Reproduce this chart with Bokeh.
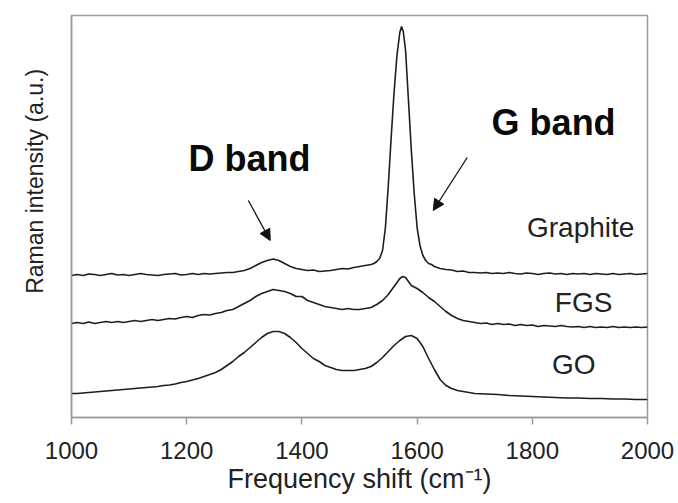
from bokeh.plotting import figure
from bokeh.models import FixedTicker, Arrow, NormalHead
from bokeh.core.properties import value
from bokeh.embed import file_html
from bokeh.resources import INLINE

# ---- data (arbitrary intensity units) ----
x_ticks = [1000, 1200, 1400, 1600, 1800, 2000]

graphite_x = [1000, 1010, 1020, 1030, 1040, 1050, 1060, 1070, 1080, 1090,
              1100, 1110, 1120, 1130, 1140, 1150, 1160, 1170, 1180, 1190,
              1200, 1210, 1220, 1230, 1240, 1250, 1260, 1270, 1280, 1290,
              1300, 1310, 1320, 1330, 1340, 1350, 1360, 1370, 1380, 1390,
              1400, 1410, 1420, 1430, 1440, 1450, 1460, 1470, 1480, 1490,
              1500, 1510, 1520, 1525, 1530, 1535, 1540, 1545, 1550, 1555,
              1560, 1565, 1570, 1573, 1576, 1580, 1585, 1590, 1595, 1600,
              1605, 1610, 1615, 1620, 1625, 1630, 1640, 1650, 1660, 1670,
              1680, 1690, 1700, 1710, 1720, 1730, 1740, 1750, 1760, 1770,
              1780, 1790, 1800, 1810, 1820, 1830, 1840, 1850, 1860, 1870,
              1880, 1890, 1900, 1910, 1920, 1930, 1940, 1950, 1960, 1970,
              1980, 1990, 2000]
graphite_y = [142, 143, 142, 143.5, 143, 142, 143, 144, 142.5, 143,
              142, 143, 144, 143, 142.5, 142, 143, 143.5, 144, 142.5,
              143, 144, 143, 144, 143.5, 144, 144.5, 145, 145, 146,
              147, 149, 152, 155, 157, 158.5, 157, 154, 151, 149,
              148, 147, 147.5, 146, 146.5, 147, 148, 149, 148.5, 150,
              151, 152, 153, 154, 156, 159, 167, 190, 232, 280,
              325, 362, 385, 391, 386, 367, 317, 267, 224, 190,
              172, 162, 157, 154, 153, 151, 149, 148, 147.5, 146,
              146.5, 145, 145, 144.5, 145, 144, 144.5, 144, 145, 144,
              143.5, 144.5, 144, 143, 144, 144.5, 143.5, 144, 143, 144,
              143.5, 144, 143, 144, 143.5, 143, 144, 143, 143.5, 144,
              143, 143.5, 144]

fgs_x = [1000, 1010, 1020, 1030, 1040, 1050, 1060, 1070, 1080, 1090,
         1100, 1110, 1120, 1130, 1140, 1150, 1160, 1170, 1180, 1190,
         1200, 1210, 1220, 1230, 1240, 1250, 1260, 1270, 1280, 1290,
         1300, 1310, 1320, 1330, 1340, 1350, 1360, 1370, 1380, 1390,
         1400, 1410, 1420, 1430, 1440, 1450, 1460, 1470, 1480, 1490,
         1500, 1510, 1520, 1530, 1540, 1550, 1560, 1570, 1575, 1580,
         1590, 1600, 1610, 1620, 1630, 1640, 1650, 1660, 1670, 1680,
         1690, 1700, 1710, 1720, 1730, 1740, 1750, 1760, 1770, 1780,
         1790, 1800, 1810, 1820, 1830, 1840, 1850, 1860, 1870, 1880,
         1890, 1900, 1910, 1920, 1930, 1940, 1950, 1960, 1970, 1980,
         1990, 2000]
fgs_y = [94, 95, 94, 95.5, 94, 95, 96, 95, 96, 95,
         96, 97, 96, 97, 98, 97, 98, 99, 98.5, 100,
         101, 100, 102, 103, 102.5, 104, 105, 107, 108, 111,
         114, 117, 121, 124, 126, 128, 127, 126, 124, 121,
         121, 117, 115, 113, 111, 110, 109, 108, 109, 108,
         108, 109, 110, 113, 117, 123, 131, 139, 141, 140,
         132, 129, 125, 120, 116, 111, 106, 102, 99, 97,
         96, 95, 94, 94.5, 93, 94, 93, 93.5, 92, 93,
         92, 92.5, 91, 92, 91.5, 91, 92, 91, 90.5, 91,
         90, 91, 90, 90.5, 90, 91, 90, 90.5, 90, 90.5,
         90, 90.5]

go_x = [1000, 1010, 1020, 1030, 1040, 1050, 1060, 1070, 1080, 1090,
        1100, 1110, 1120, 1130, 1140, 1150, 1160, 1170, 1180, 1190,
        1200, 1210, 1220, 1230, 1240, 1250, 1260, 1270, 1280, 1290,
        1300, 1310, 1320, 1330, 1340, 1350, 1360, 1370, 1380, 1390,
        1400, 1410, 1420, 1430, 1440, 1450, 1460, 1470, 1480, 1490,
        1500, 1510, 1520, 1530, 1540, 1550, 1560, 1570, 1580, 1590,
        1600, 1610, 1620, 1630, 1640, 1650, 1660, 1670, 1680, 1690,
        1700, 1720, 1740, 1760, 1780, 1800, 1820, 1840, 1860, 1880,
        1900, 1920, 1940, 1960, 1980, 2000]
go_y = [24, 24, 24.5, 25, 25.5, 26, 26.5, 27, 27.5, 28,
        28.5, 29, 29.5, 30, 30.5, 31, 32, 32.5, 33.5, 35,
        36, 37.5, 39, 41, 43, 45, 48, 52, 56, 61,
        65, 70, 75, 80, 84, 86, 86, 84, 80, 75,
        69, 64, 59, 56, 52, 50, 48, 47, 47, 47,
        48, 49, 51, 55, 60, 66, 72, 77, 81, 82,
        79, 71, 59, 48, 38, 32, 29, 27, 26, 25,
        24, 23.5, 23, 22, 21.5, 21, 20.5, 20, 19.5, 19.5,
        19, 19, 18.5, 18.5, 18, 18]

series_names = ["Graphite", "FGS", "GO"]
series_label_x = [1884, 1889, 1872]
series_label_y = [190, 115, 53]

band_names = ["D band", "G band"]
band_label_x = [1309, 1837]
band_label_y = [259, 295]
arrow_start_x = [1307, 1687]
arrow_start_y = [217, 260]
arrow_end_x = [1345, 1628]
arrow_end_y = [177, 207]

x_title = "Frequency shift (cm\u207B\u00B9)"
y_title = "Raman intensity (a.u.)"

FONT = "Liberation Sans"

p = figure(width=678, height=503, x_range=(1000, 2000), y_range=(0, 402),
           output_backend="svg", toolbar_location=None,
           min_border_left=71, min_border_right=31, min_border_top=15,
           min_border_bottom=86)

p.grid.visible = False
p.outline_line_color = "#9a9a9a"
p.outline_line_width = 1.5
p.background_fill_color = "white"
p.border_fill_color = "white"

xa = p.xaxis[0]
xa.ticker = FixedTicker(ticks=x_ticks)
xa.major_tick_in = 0
xa.major_tick_out = 7
xa.minor_tick_line_color = None
xa.axis_line_color = "#9a9a9a"
xa.axis_line_width = 1.5
xa.major_tick_line_color = "#9a9a9a"
xa.major_tick_line_width = 1.5
xa.major_label_text_font = FONT
xa.major_label_text_font_size = "24px"
xa.major_label_text_color = "#222222"
xa.major_label_standoff = 17
xa.axis_label = x_title
xa.axis_label_text_font = FONT
xa.axis_label_text_font_size = "27px"
xa.axis_label_text_font_style = "normal"
xa.axis_label_text_color = "#222222"
xa.axis_label_standoff = 2

ya = p.yaxis[0]
ya.ticker = FixedTicker(ticks=[])
ya.major_tick_line_color = None
ya.minor_tick_line_color = None
ya.axis_line_color = "#9a9a9a"
ya.axis_line_width = 1.5
# leading non-breaking spaces lift the label above the frame's centre, as in the reference
ya.axis_label = "\u00A0" * 11 + y_title
ya.axis_label_text_font = FONT
ya.axis_label_text_font_size = "23px"
ya.axis_label_text_font_style = "normal"
ya.axis_label_text_color = "#222222"
ya.axis_label_standoff = 24

for xs, ys in [(graphite_x, graphite_y), (fgs_x, fgs_y), (go_x, go_y)]:
    p.line(xs, ys, line_color="#1e1e1e", line_width=1.6)

p.text(x=series_label_x, y=series_label_y, text=series_names,
       text_font=value(FONT), text_font_size="28px", text_color="#222222",
       text_align="center", text_baseline="middle")

p.text(x=band_label_x, y=band_label_y, text=band_names,
       text_font=value(FONT), text_font_size="36px", text_font_style="bold",
       text_color="#0a0a0a", text_align="center", text_baseline="middle")

for i in range(len(band_names)):
    p.add_layout(Arrow(end=NormalHead(size=11, fill_color="#111111",
                                      line_color="#111111"),
                       x_start=arrow_start_x[i], y_start=arrow_start_y[i],
                       x_end=arrow_end_x[i], y_end=arrow_end_y[i],
                       line_color="#111111", line_width=1.3))

open("out.html", "w").write(file_html(p, INLINE))
